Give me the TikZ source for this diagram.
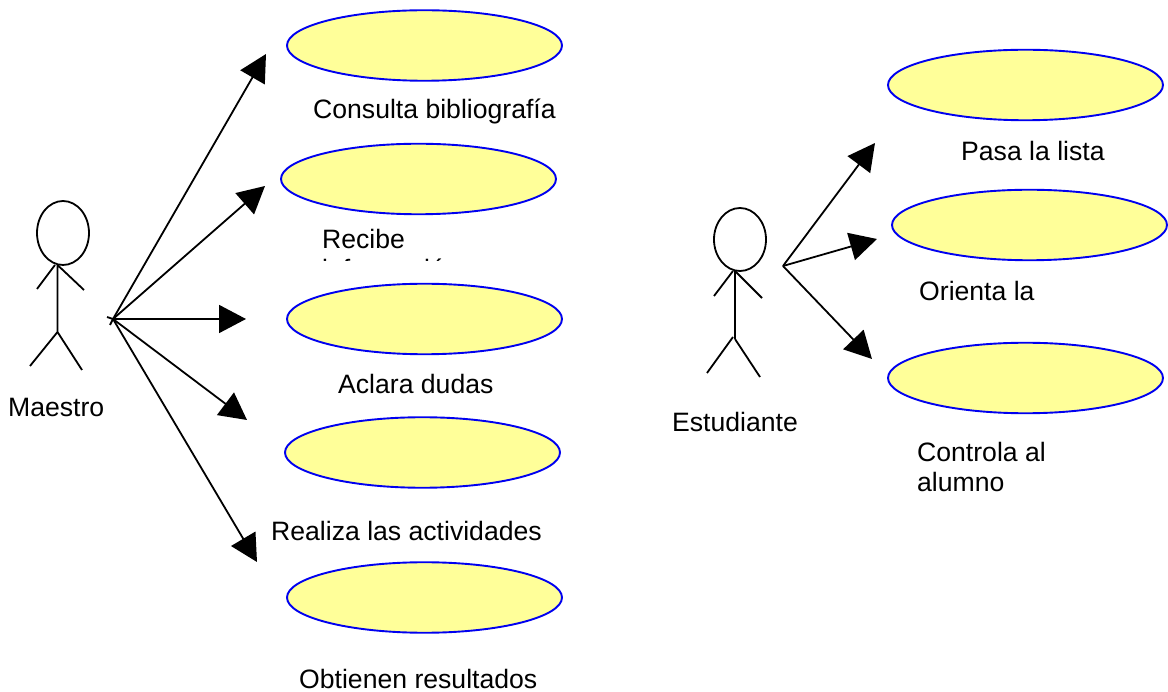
\documentclass[tikz,border=0pt]{standalone}
\usepackage{fontspec}
\setmainfont{Liberation Sans}
\usetikzlibrary{arrows.meta,shapes.geometric}
\tikzset{
  usecase/.style={draw=ucblue,fill=ucyellow,line width=1.9pt,ellipse,minimum width=275pt,minimum height=70.5pt,inner sep=0pt},
  lab/.style={anchor=base west,inner sep=0pt,font=\fontsize{26.6}{30}\selectfont,text=black},
  assoc/.style={line width=1.8pt,-{Triangle[length=27pt,width=28pt]}},
  stick/.style={line width=1.8pt},
  headshape/.style={draw,line width=1.8pt,ellipse,minimum width=52pt,minimum height=64pt,inner sep=0pt},
}
\definecolor{ucblue}{RGB}{0,0,240}
\definecolor{ucyellow}{RGB}{255,255,153}
\begin{document}
\begin{tikzpicture}[x=1pt,y=-1pt]
\useasboundingbox (0,0) rectangle (1168,692);
% use cases
\node[usecase] (u1) at (424.5,45.5) {};
\node[usecase] (u2) at (418.5,179) {};
\node[usecase] (u3) at (424.5,319) {};
\node[usecase] (u4) at (422.5,452.5) {};
\node[usecase] (u5) at (424.5,597.5) {};
\node[usecase] (v1) at (1025.5,85) {};
\node[usecase] (v2) at (1029.5,225) {};
\node[usecase] (v3) at (1025.5,378) {};
% labels
\node[lab] (t1) at (313,119) {Consulta bibliografía};
\node[lab] (t2) at (322,249) {Recibe};
\begin{scope}
  \clip (300,254) rectangle (560,260.5);
  \node[lab] (t2b) at (322,279) {información};
\end{scope}
\node[lab] (t3) at (338,394) {Aclara dudas};
\node[lab] (t4) at (271,540) {Realiza las actividades};
\node[lab] (t5) at (299,688) {Obtienen resultados};
\node[lab] (tm) at (8,417) {Maestro};
\node[lab] (w1) at (961,161) {Pasa la lista};
\node[lab] (w2) at (919,301) {Orienta la};
\node[lab] (w3) at (917,462) {Controla al};
\node[lab] (w3b) at (917,492) {alumno};
\node[lab] (te) at (672,432) {Estudiante};
% actor 1
\node[headshape] (h1) at (63,233) {};
\coordinate (n1) at (57.5,265);
\coordinate (b1) at (57.5,332);
\coordinate (a1l) at (37,289);
\coordinate (a1r) at (84,290);
\coordinate (l1l) at (30,366);
\coordinate (l1r) at (82,370);
\draw[stick] (n1) -- (b1) (a1l) -- (55,265) (n1) -- (a1r) (l1l) -- (b1) -- (l1r);
% actor 2
\node[headshape,minimum height=63pt] (h2) at (740,239.5) {};
\coordinate (n2) at (735,271);
\coordinate (b2) at (735,339);
\coordinate (a2l) at (714,296);
\coordinate (a2r) at (762,298);
\coordinate (l2l) at (707,373);
\coordinate (l2r) at (760,377);
\draw[stick] (n2) -- (b2) (a2l) -- (733,271) (n2) -- (a2r) (l2l) -- (733,337) (b2) -- (l2r);
% associations
\coordinate (p) at (113,319);
\coordinate (pa) at (107,317);
\coordinate (pb) at (110,325);
\draw[stick] (pa) -- (p) -- (pb);
\coordinate (e1) at (266,54);
\coordinate (e2) at (265,186);
\coordinate (e3) at (246,319);
\coordinate (e4) at (247,420);
\coordinate (e5) at (257,562);
\foreach \e in {e1,e2,e3,e4,e5} \draw[assoc] (p) -- (\e);
\coordinate (q) at (783,266);
\coordinate (f1) at (875,143);
\coordinate (f2) at (877,239);
\coordinate (f3) at (872,359);
\foreach \e in {f1,f2,f3} \draw[assoc] (q) -- (\e);
\end{tikzpicture}
\end{document}
